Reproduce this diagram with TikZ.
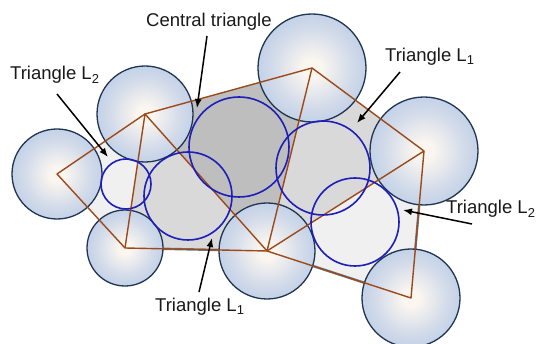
\documentclass[tikz,border=0pt]{standalone}
\usepackage{fontspec}
\setmainfont{Liberation Sans}
\usetikzlibrary{arrows.meta,calc}
\definecolor{linkbrown}{HTML}{9C4A1A}
\definecolor{gapblue}{HTML}{1E1EB8}
\definecolor{ballrim}{HTML}{1F3552}
\definecolor{ballin}{HTML}{FBF6F0}
\definecolor{ballout}{HTML}{AEC3E4}
\definecolor{fillcentral}{HTML}{BEBEBE}
\definecolor{filllone}{HTML}{D9D9D9}
\definecolor{fillltwo}{HTML}{F0F0F0}
\definecolor{hullrim}{HTML}{6A8098}
\pgfdeclareradialshading{ballshade}{\pgfpoint{0bp}{0bp}}{%
  color(0bp)=(ballin); color(4bp)=(ballin);
  color(19bp)=(ballin!45!ballout); color(35bp)=(ballout); color(50bp)=(ballout)}
\tikzset{
  bigball/.style={draw=ballrim,line width=1.3pt,shading=ballshade},
  gapcircle/.style={draw=gapblue,line width=1.6pt},
  link/.style={draw=linkbrown,line width=1.4pt,line join=round},
  pointer/.style={draw,->,>={Latex[length=9pt,width=7pt]},line width=1.5pt},
  lbl/.style={font=\fontsize{18.5}{21}\selectfont,text=black!90,inner sep=0pt,anchor=base west},
}
\begin{document}
\begin{tikzpicture}[x=1pt,y=-1pt]
\useasboundingbox (0,0) rectangle (541,344);

% centres of the large circles
\coordinate (p1) at (57,174);
\coordinate (p2) at (145,114);
\coordinate (p3) at (312,68);
\coordinate (p4) at (424,151);
\coordinate (p5) at (125,248);
\coordinate (p6) at (267,251);
\coordinate (p7) at (411,298);

% faces
\fill[fillltwo] (p1) -- (p2) -- (p5) -- cycle;
\fill[fillltwo] (p4) -- (p7) -- (p6) -- cycle;
\fill[filllone] (p2) -- (p5) -- (p6) -- cycle;
\fill[filllone] (p3) -- (p4) -- (p6) -- cycle;
\fill[fillcentral] (p2) -- (p3) -- (p6) -- cycle;
\draw[hullrim,line width=2.4pt,line join=round] (p5) -- (p6) -- (p7) -- (p4);

% large circles
\foreach \c/\r in {p1/45,p2/48,p3/54,p4/54,p5/38,p6/48,p7/49}
  \shade[bigball] (\c) circle[radius=\r];

% links between centres
\draw[link] (p1) -- (p2) -- (p3) -- (p4) -- (p7) -- (p6) -- (p5) -- cycle;
\draw[link] (p5) -- (p2) -- (p6) -- (p3);
\draw[link] (p6) -- (p4);

% circles in the gaps
\coordinate (g1) at (126,184);
\coordinate (g2) at (188,196);
\coordinate (g3) at (239,147);
\coordinate (g4) at (323,168);
\coordinate (g5) at (355,222);
\foreach \g/\r in {g1/25,g2/44,g3/50,g4/47,g5/44}
  \draw[gapcircle] (\g) circle[radius=\r];

% labels
\node[lbl] (labcentral) at (146,27) {Central triangle};
\node[lbl] (labloneup) at (385,62) {Triangle L\textsubscript{1}};
\node[lbl] (labltwoleft) at (10,80) {Triangle L\textsubscript{2}};
\node[lbl] (labllonedown) at (155,312) {Triangle L\textsubscript{1}};
\node[lbl] (labltworight) at (446,214) {Triangle L\textsubscript{2}};

\coordinate (scentral) at (207,36);
\coordinate (tcentral) at (197,108);
\coordinate (sloneup) at (400,72);
\coordinate (tloneup) at (357,123);
\coordinate (sltwoleft) at (57,94);
\coordinate (tltwoleft) at (108,157);
\coordinate (slonedown) at (199,292);
\coordinate (tlonedown) at (212,238);
\coordinate (sltworight) at (472,224);
\coordinate (tltworight) at (403,210);

\draw[pointer] (scentral) -- (tcentral);
\draw[pointer] (sloneup) -- (tloneup);
\draw[pointer] (sltwoleft) -- (tltwoleft);
\draw[pointer] (slonedown) -- (tlonedown);
\draw[pointer] (sltworight) -- (tltworight);

\end{tikzpicture}
\end{document}
